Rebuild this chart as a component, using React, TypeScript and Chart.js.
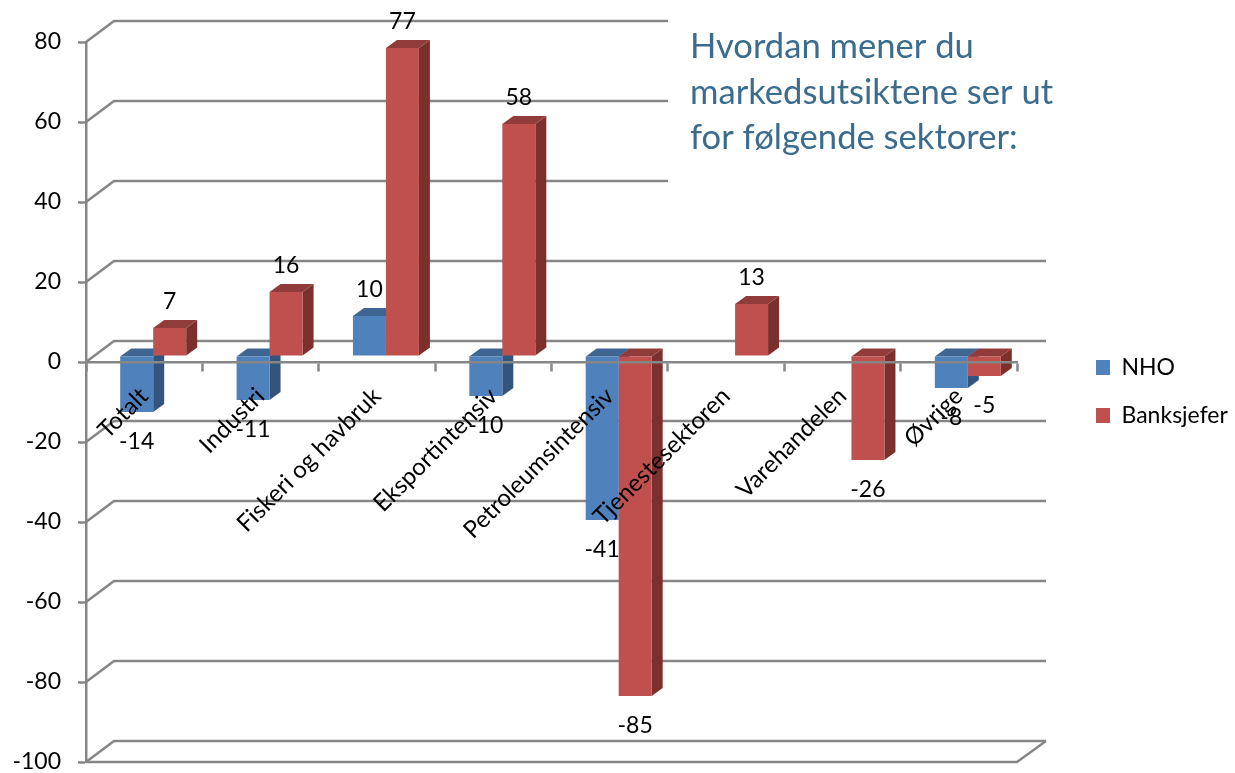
import React, { useEffect, useRef } from "react";
import { Chart, registerables } from "chart.js";

Chart.register(...registerables);

const categories = ["Totalt", "Industri", "Fiskeri og havbruk", "Eksportintensiv", "Petroleumsintensiv", "Tjenestesektoren", "Varehandelen", "Øvrige"];
const nhoValues = [-14, -11, 10, -10, -41, null, null, -8];
const bankValues = [7, 16, 77, 58, -85, 13, -26, -5];
const titleLines = ["Hvordan mener du", "markedsutsiktene ser ut", "for følgende sektorer:"];

const FONT = "Lato, Carlito, Calibri, sans-serif";
const GRID = "#868686";
const BLUE = "#4F81BD";
const RED = "#C0504D";
const BAR_DX = 9;
const BAR_DY = -6;
const DEPTH_X = 11;
const DEPTH_Y = 8;
const WALL_DX = 28;
const WALL_DY = -21;
const faces: Record<string, { side: string; top: string }> = {
  [BLUE]: { side: "#34547C", top: "#3F6592" },
  [RED]: { side: "#7B302E", top: "#913C3A" },
};

const walls3d = {
  id: "walls3d",
  beforeDatasetsDraw(chart: any) {
    const { ctx, chartArea, scales } = chart;
    const y = scales.y;
    ctx.save();
    ctx.strokeStyle = GRID;
    ctx.lineWidth = 2.5;
    y.ticks.forEach((t: any) => {
      const py = y.getPixelForValue(t.value);
      ctx.beginPath();
      ctx.moveTo(chartArea.left, py);
      ctx.lineTo(chartArea.left + WALL_DX, py + WALL_DY);
      ctx.lineTo(chartArea.right + WALL_DX + 1, py + WALL_DY);
      ctx.stroke();
    });
    ctx.beginPath();
    ctx.moveTo(chartArea.left, chartArea.bottom);
    ctx.lineTo(chartArea.right, chartArea.bottom);
    ctx.lineTo(chartArea.right + WALL_DX + 1, chartArea.bottom + WALL_DY);
    ctx.stroke();
    ctx.fillStyle = "#ffffff";
    ctx.fillRect(668, 0, 400, 192);
    ctx.fillStyle = "#3B6C8E";
    ctx.font = `34.6px ${FONT}`;
    ctx.textAlign = "left";
    ctx.textBaseline = "middle";
    titleLines.forEach((line, i) => ctx.fillText(line, 690, 47 + i * 45.5));
    ctx.restore();
  },
  beforeDatasetDraw() {
    return false;
  },
  afterDatasetsDraw(chart: any) {
    const { ctx } = chart;
    const metas = chart.data.datasets.map((_: any, i: number) => chart.getDatasetMeta(i));
    ctx.save();
    ctx.translate(BAR_DX, BAR_DY);
    categories.forEach((_, idx) => {
      metas.forEach((meta: any, dsIndex: number) => {
        const el = meta.data[idx];
        if (!el || el.skip || chart.data.datasets[dsIndex].data[idx] == null) return;
        const { x, y, base, width } = el.getProps(["x", "y", "base", "width"], true);
        const left = x - width / 2;
        const right = x + width / 2;
        const top = Math.min(y, base);
        const bottom = Math.max(y, base);
        const f = faces[chart.data.datasets[dsIndex].backgroundColor];
        ctx.fillStyle = f.side;
        ctx.beginPath();
        ctx.moveTo(right, top);
        ctx.lineTo(right + DEPTH_X, top - DEPTH_Y);
        ctx.lineTo(right + DEPTH_X, bottom - DEPTH_Y);
        ctx.lineTo(right, bottom);
        ctx.closePath();
        ctx.fill();
        ctx.fillStyle = f.top;
        ctx.beginPath();
        ctx.moveTo(left, top);
        ctx.lineTo(left + DEPTH_X, top - DEPTH_Y);
        ctx.lineTo(right + DEPTH_X, top - DEPTH_Y);
        ctx.lineTo(right, top);
        ctx.closePath();
        ctx.fill();
        el.draw(ctx);
      });
    });
    ctx.fillStyle = "#000000";
    ctx.font = `23px ${FONT}`;
    ctx.textAlign = "center";
    ctx.textBaseline = "middle";
    metas.forEach((meta: any, dsIndex: number) => {
      const data = chart.data.datasets[dsIndex].data;
      meta.data.forEach((el: any, idx: number) => {
        const v = data[idx];
        if (v == null) return;
        const { x, y } = el.getProps(["x", "y"], true);
        ctx.fillText(String(v), x, v >= 0 ? y - 26 : y + 30);
      });
    });
    ctx.restore();
  },
};

const legendPlacer = {
  id: "legendPlacer",
  beforeLayout(chart: any) {
    const l = chart.legend;
    if (!l.__wrapped) {
      const fit = l.fit;
      l.fit = function () {
        fit.call(this);
        this.width = 218;
      };
      l.__wrapped = true;
    }
  },
  afterLayout(chart: any) {
    const l = chart.legend;
    const padding = l.options.labels.padding;
    l.left = 1096 - padding;
    l.right = 1235;
    l.width = l.right - l.left;
    l.top = 200;
    l.bottom = 583;
    l.height = l.bottom - l.top;
  },
};

export default function App() {
  const ref = useRef<HTMLCanvasElement | null>(null);
  useEffect(() => {
    const chart = new Chart(ref.current as HTMLCanvasElement, {
      type: "bar",
      data: {
        labels: categories,
        datasets: [
          { label: "NHO", data: nhoValues, backgroundColor: BLUE, borderWidth: 0 },
          { label: "Banksjefer", data: bankValues, backgroundColor: RED, borderWidth: 0 },
        ],
      },
      options: {
        responsive: false,
        animation: false,
        layout: { padding: { top: 42, bottom: 11, left: 0, right: 0 } },
        datasets: { bar: { categoryPercentage: 0.567, barPercentage: 1 } },
        plugins: {
          title: { display: false },
          tooltip: { enabled: false },
          legend: {
            position: "right",
            align: "center",
            labels: { boxWidth: 14, boxHeight: 15, padding: 25, color: "#000000", font: { family: FONT, size: 23 } },
          },
        },
        scales: {
          x: {
            position: { y: 0 },
            grid: { offset: true, drawOnChartArea: false, drawTicks: true, tickLength: 8, tickWidth: 2.5, color: GRID },
            border: { display: true, color: GRID, width: 2.5, z: 1 },
            ticks: { z: 1, autoSkip: false, minRotation: 45, maxRotation: 45, padding: 12, color: "#000000", font: { family: FONT, size: 24 } },
          },
          y: {
            min: -100,
            max: 80,
            afterFit: (s: any) => {
              s.width = 86;
              s.paddingTop = 0;
              s.paddingBottom = 0;
            },
            grid: { drawOnChartArea: false, drawTicks: true, tickLength: 8, tickWidth: 2.5, color: GRID },
            border: { display: true, color: GRID, width: 2.5 },
            ticks: { stepSize: 20, padding: 17, color: "#000000", font: { family: FONT, size: 23 } },
          },
        },
      } as any,
      plugins: [walls3d, legendPlacer],
    });
    return () => chart.destroy();
  }, []);
  return (
    <canvas
      ref={ref}
      width={1235}
      height={773}
      style={{ position: "absolute", left: 0, top: 0, display: "block", background: "#ffffff" }}
    />
  );
}
